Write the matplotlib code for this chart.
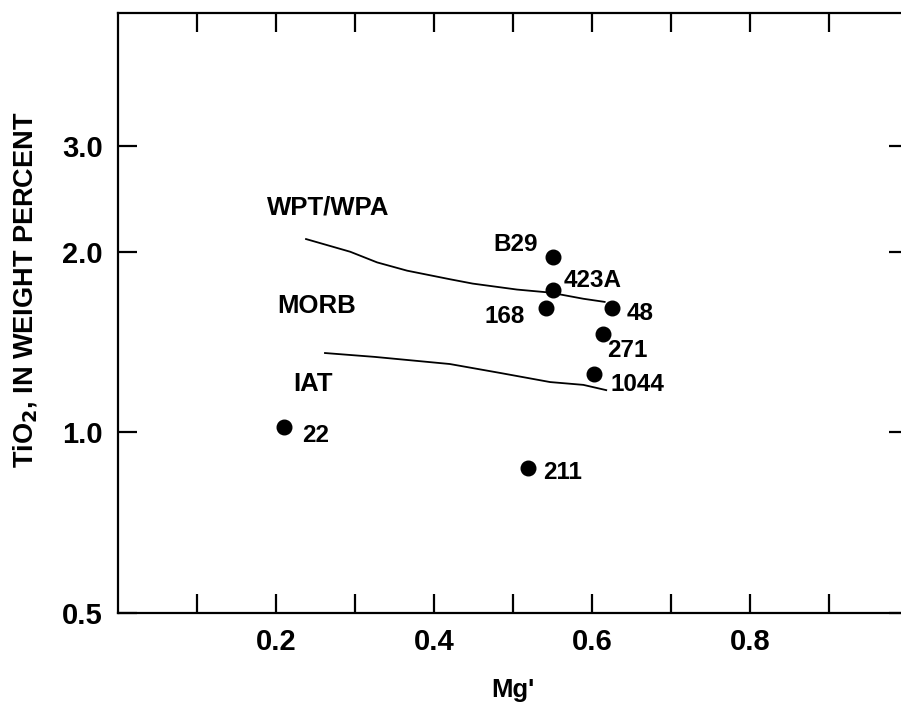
import numpy as np
import matplotlib
matplotlib.use('Agg')
import matplotlib.pyplot as plt
from matplotlib.ticker import FixedLocator, NullLocator, FixedFormatter

plt.rcParams['font.family'] = ['Liberation Sans', 'DejaVu Sans']
plt.rcParams['font.weight'] = 'bold'

# sample points: Mg' vs TiO2 (wt%)
samples = ['B29', '423A', '168', '48', '271', '1044', '211', '22']
mg = [0.551, 0.551, 0.542, 0.625, 0.614, 0.603, 0.519, 0.210]
tio2 = [1.96, 1.73, 1.61, 1.61, 1.46, 1.25, 0.873, 1.02]

# WPT/WPA - MORB boundary
b1_x = [0.238, 0.294, 0.328, 0.366, 0.420, 0.449, 0.505, 0.547, 0.589, 0.616]
b1_y = [2.10, 2.00, 1.92, 1.86, 1.80, 1.77, 1.73, 1.71, 1.67, 1.65]
# MORB - IAT boundary
b2_x = [0.262, 0.325, 0.420, 0.484, 0.547, 0.589, 0.618]
b2_y = [1.356, 1.336, 1.30, 1.256, 1.213, 1.20, 1.176]

fields = ['WPT/WPA', 'MORB', 'IAT']
field_x = [0.266, 0.251, 0.247]
field_y = [2.37, 1.625, 1.205]

# label offsets in pixels
lab_off = [(-38, 13), (39, 9), (-41, -8), (28, -5), (24, -17), (43, -10), (35, -5), (32, -8)]

fig = plt.figure(figsize=(9.01, 7.02), dpi=100)
ax = fig.add_axes([118/901, 89/702, 790/901, 600/702])

ax.plot(b1_x, b1_y, 'k-', lw=1.3)
ax.plot(b2_x, b2_y, 'k-', lw=1.3)
ax.plot(mg, tio2, 'ko', ms=10.5, ls='none')

for s, x, y, off in zip(samples, mg, tio2, lab_off):
    ax.annotate(s, (x, y), xytext=off, textcoords='offset pixels',
                ha='center', va='center', fontsize=17.5, fontweight='bold')
for f, x, y in zip(fields, field_x, field_y):
    ax.text(x, y, f, ha='center', va='center', fontsize=18.5, fontweight='bold')

ax.set_yscale('log')
ax.set_xlim(0, 1.0)
ax.set_ylim(0.5, 5.0)
ax.xaxis.set_major_locator(FixedLocator([0.1, 0.2, 0.3, 0.4, 0.5, 0.6, 0.7, 0.8, 0.9]))
ax.xaxis.set_major_formatter(FixedFormatter(['', '0.2', '', '0.4', '', '0.6', '', '0.8', '']))
ax.yaxis.set_major_locator(FixedLocator([0.5, 1.0, 2.0, 3.0]))
ax.yaxis.set_major_formatter(FixedFormatter(['0.5', '1.0', '2.0', '3.0']))
ax.yaxis.set_minor_locator(NullLocator())
ax.xaxis.set_minor_locator(NullLocator())
ax.tick_params(direction='in', length=14, width=1.6, top=True, right=True,
               labelsize=21)
ax.tick_params(axis='y', pad=11)
ax.tick_params(axis='x', pad=11)
for sp in ax.spines.values():
    sp.set_linewidth(1.6)

ax.set_xlabel("Mg'", fontsize=18.5, fontweight='bold')
ax.xaxis.set_label_coords(0.5, -0.108)
ax.set_ylabel('TiO$_\\mathbf{2}$, IN WEIGHT PERCENT', fontsize=19.5, fontweight='bold')
ax.yaxis.set_label_coords(-0.100, 0.538)

fig.savefig('out.png', dpi=100)
